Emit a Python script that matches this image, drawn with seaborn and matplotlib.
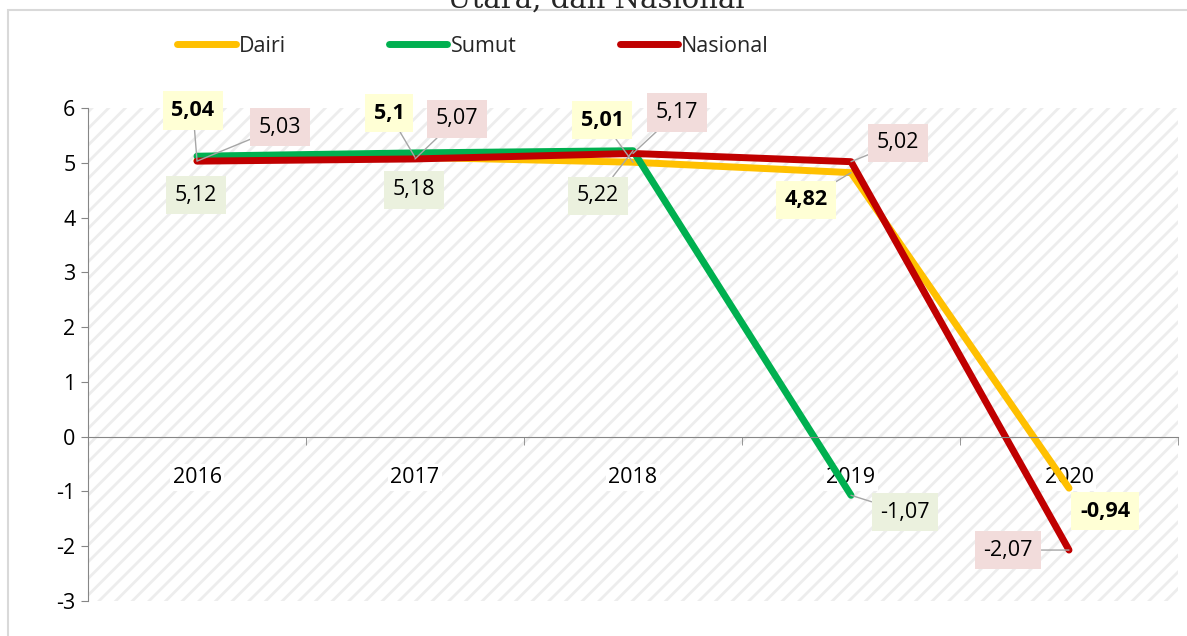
"""
Laju pertumbuhan ekonomi Dairi, Sumut dan Nasional 2016-2020
"""

# import section
import numpy as np
import pandas as pd
import seaborn as sns
import matplotlib.pyplot as plt
from matplotlib.patches import Rectangle

# data
YEARS = ['2016', '2017', '2018', '2019', '2020']
DAIRI = [5.04, 5.1, 5.01, 4.82, -0.94]
SUMUT = [5.12, 5.18, 5.22, -1.07, np.nan]
NASIONAL = [5.03, 5.07, 5.17, 5.02, -2.07]
SERIES = ['Dairi', 'Sumut', 'Nasional']
COLORS = ['#FFC000', '#00B050', '#C00000']
BOX_COLORS = ['#FFFFD5', '#EBF1DE', '#F2DCDB']
Y_TICKS = [-3, -2, -1, 0, 1, 2, 3, 4, 5, 6]

# label offsets (pixels) per series and year, flag = draw leader line
OFFSETS = {
    'Dairi': [(-4, 50, True), (-26, 44, True), (-31, 42, True), (-45, -27, True), (36, -23, False)],
    'Sumut': [(-1, -39, False), (-1, -37, False), (-35, -45, True), (54, -17, True), None],
    'Nasional': [(83, 34, True), (42, 40, True), (44, 41, True), (47, 19, True), (-61, 0, True)],
}

DF = pd.DataFrame({
    'year': YEARS * 3,
    'value': DAIRI + SUMUT + NASIONAL,
    'series': sum([[s] * len(YEARS) for s in SERIES], []),
})

# set plot dimensions
X_PIXELS, Y_PIXELS, DPI = 1187, 636, 100
FS = 15.5
sns.set_style('white')
plt.rcParams['font.family'] = ['Open Sans', 'DejaVu Sans']
plt.rcParams['axes.unicode_minus'] = False
plt.rcParams['hatch.linewidth'] = 2.0
plt.rcParams['hatch.color'] = '#ededed'

fig = plt.figure(figsize=(X_PIXELS / DPI, Y_PIXELS / DPI), dpi=DPI)
ax = fig.add_axes([88 / 1187, 1 - 601 / 636, 1090 / 1187, 493 / 636])

# hatched plot area
ax.patch.set_facecolor('white')
ax.patch.set_hatch('//')
ax.patch.set_edgecolor('#ededed')

sns.lineplot(data=DF, x='year', y='value', hue='series', hue_order=SERIES,
             palette=COLORS, linewidth=5, sort=False, ax=ax,
             solid_capstyle='round')
sns.move_legend(ax, 'center left', bbox_to_anchor=(158 / 1187, 1 - 46 / 636),
                bbox_transform=fig.transFigure, ncol=3, frameon=False, title=None,
                handlelength=2.7, handletextpad=0.15, columnspacing=4.8,
                fontsize=FS)
for line in ax.get_legend().get_lines():
    line.set_linewidth(5)
    line.set_solid_capstyle('round')

ax.set_xlim(-0.5, 4.5)
ax.set_ylim(-3, 6)
ax.set_yticks(Y_TICKS)
ax.set_xlabel('')
ax.set_ylabel('')

# axes styling
for side in ['top', 'right']:
    ax.spines[side].set_visible(False)
ax.spines['left'].set_color('#868686')
ax.spines['bottom'].set_color('#868686')
ax.spines['bottom'].set_position(('data', 0))
ax.tick_params(axis='y', direction='out', length=5, color='#868686',
               labelsize=FS, labelcolor='black', left=True, pad=4)
ax.set_xticks(np.arange(-0.5, 5, 1), minor=True)
ax.tick_params(axis='x', which='minor', direction='out', length=6, color='#868686',
               bottom=True)
ax.tick_params(axis='x', which='major', length=0, labelsize=FS, pad=22,
               labelcolor='black')
for lab in ax.get_xticklabels():
    lab.set_bbox(dict(facecolor='white', edgecolor='none', pad=2))

# data labels
for s, values, box in zip(SERIES, [DAIRI, SUMUT, NASIONAL], BOX_COLORS):
    for i, v in enumerate(values):
        off = OFFSETS[s][i]
        if off is None or np.isnan(v):
            continue
        dx, dy, leader = off
        text = ('%g' % v).replace('.', ',')
        arrow = dict(arrowstyle='-', color='#a6a6a6', lw=1, shrinkA=0, shrinkB=0) if leader else None
        ax.annotate(text, xy=(i, v), xytext=(dx, dy), textcoords='offset pixels',
                    ha='center', va='center', fontsize=FS, color='black',
                    fontweight='bold' if s == 'Dairi' else 'normal',
                    bbox=dict(boxstyle='square,pad=0.4', facecolor=box, edgecolor='none'),
                    arrowprops=arrow, zorder=5)

# chart frame and cut title
fig.patches.append(Rectangle((8 / 1187, -0.05), 1.1, 1.05 - 10 / 636, transform=fig.transFigure,
                             facecolor='none', edgecolor='#d9d9d9', lw=1.5))
fig.text(0.502, 1 - 8 / 636, 'Utara, dan Nasional', family='DejaVu Serif', fontsize=21,
         ha='center', va='baseline')

plt.savefig('out.png', dpi=DPI)
